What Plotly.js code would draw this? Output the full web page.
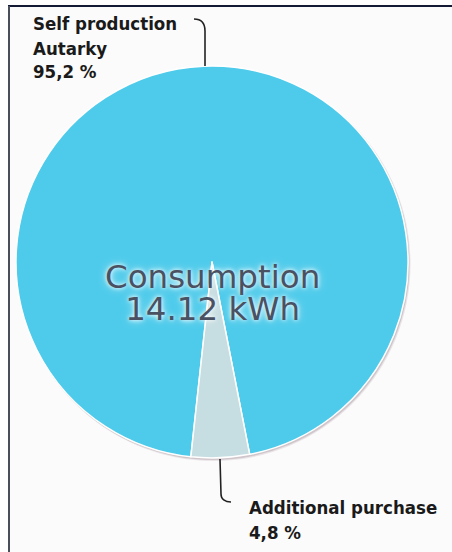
<!DOCTYPE html>
<html>
<head>
<meta charset="utf-8">
<script src="https://cdn.plot.ly/plotly-3.0.1.min.js"></script>
<style>
html,body{margin:0;padding:0;background:#ffffff;}
#chart{width:452px;height:552px;}
</style>
</head>
<body>
<div id="chart"></div>
<script>
// ---- data ----
const categories = ['Self production', 'Additional purchase'];
const subtitles = ['Autarky', ''];
const shares = [95.2, 4.8];           // percent
const totalConsumption = 14.12;       // kWh
const centerTitle = 'Consumption';
const unit = 'kWh';

// ---- styles ----
const sliceColors = ['#4ecbeb', '#c6dde1'];
const W = 452, H = 552;
const px = x => x / W;
const py = y => 1 - y / H;

function fmtPct(v) { return v.toFixed(1).replace('.', ',') + ' %'; }

const trace = {
  type: 'pie',
  labels: categories,
  values: shares,
  sort: false,
  direction: 'clockwise',
  rotation: -173.8,
  textinfo: 'none',
  hoverinfo: 'skip',
  marker: { colors: sliceColors, line: { color: '#ffffff', width: 1.5 } },
  domain: { x: [px(16), px(408)], y: [py(458), py(66)] },
  showlegend: false
};

const topPath = 'M' + px(194) + ',' + py(19) +
  ' C' + px(201) + ',' + py(19) + ' ' + px(205) + ',' + py(23) + ' ' + px(205) + ',' + py(31) +
  ' L' + px(205) + ',' + py(66);
const botPath = 'M' + px(220) + ',' + py(459) +
  ' L' + px(221) + ',' + py(494) +
  ' C' + px(221) + ',' + py(499) + ' ' + px(225) + ',' + py(502) + ' ' + px(231) + ',' + py(502);

const labelFont = { family: 'DejaVu Sans Condensed, DejaVu Sans, sans-serif', size: 18.5, color: '#1a1a1a' };
const centerFont = { family: 'DejaVu Sans, sans-serif', size: 32.5, color: '#4a5162' };

function lbl(x, yMid, text) {
  return { xref: 'paper', yref: 'paper', x: px(x), y: py(yMid), xanchor: 'left', yanchor: 'middle',
    align: 'left', showarrow: false, font: labelFont, text: '<b>' + text + '</b>' };
}

const layout = {
  width: W, height: H,
  margin: { l: 0, r: 0, t: 0, b: 0 },
  paper_bgcolor: '#ffffff',
  shapes: [
    { type: 'rect', xref: 'paper', yref: 'paper', x0: px(9), x1: 1, y0: 0, y1: py(6),
      fillcolor: '#fbfbfb', line: { width: 0 }, layer: 'below' },
    { type: 'line', xref: 'paper', yref: 'paper', x0: px(8), x1: 1, y0: py(6), y1: py(6),
      line: { color: '#141a33', width: 2 } },
    { type: 'line', xref: 'paper', yref: 'paper', x0: px(9), x1: px(9), y0: 0, y1: py(6),
      line: { color: '#4a4f5c', width: 2 } },
    { type: 'circle', xref: 'paper', yref: 'paper', x0: px(17), x1: px(410.5), y0: py(461), y1: py(67),
      fillcolor: 'rgba(200,185,195,0.35)', line: { width: 0 }, layer: 'below' },
    { type: 'circle', xref: 'paper', yref: 'paper', x0: px(17), x1: px(409.5), y0: py(460), y1: py(67),
      fillcolor: 'rgba(160,140,150,0.35)', line: { width: 0 }, layer: 'below' },
    { type: 'path', xref: 'paper', yref: 'paper', path: topPath, line: { color: '#222222', width: 1.6 } },
    { type: 'path', xref: 'paper', yref: 'paper', path: botPath, line: { color: '#222222', width: 1.6 } }
  ],
  annotations: [
    lbl(31, 23.5, categories[0]),
    lbl(31, 48.5, subtitles[0]),
    lbl(31, 71.5, fmtPct(shares[0])),
    lbl(247, 507.5, categories[1]),
    lbl(247, 532.5, fmtPct(shares[1])),
    { xref: 'paper', yref: 'paper', x: px(212), y: py(256), xanchor: 'center', yanchor: 'top',
      showarrow: false, font: centerFont,
      text: centerTitle + '<br>' + totalConsumption.toFixed(2) + ' ' + unit }
  ]
};

Plotly.newPlot('chart', [trace], layout, { staticPlot: true }).then(function () {
  const groups = document.querySelectorAll('.annotation');
  const g = groups[groups.length - 1];
  const t = g.querySelector('text.annotation-text');
  if (t) {
    t.style.textShadow = '0 0 4px #ffffff, 0 0 8px rgba(255,255,255,0.8)';
    const lines = t.querySelectorAll('tspan.line');
    if (lines.length > 1) lines[1].setAttribute('dy', '0.985em');
  }
});
</script>
</body>
</html>
